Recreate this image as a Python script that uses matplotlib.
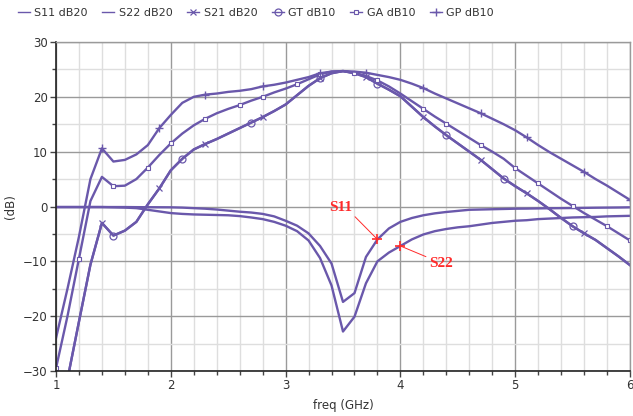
import matplotlib
matplotlib.use("Agg")
import matplotlib.pyplot as plt
from matplotlib.ticker import MultipleLocator

freq = [1.0, 1.1, 1.2, 1.3, 1.4, 1.5, 1.6, 1.7, 1.8, 1.9,
        2.0, 2.1, 2.2, 2.3, 2.4, 2.5, 2.6, 2.7, 2.8, 2.9,
        3.0, 3.1, 3.2, 3.3, 3.4, 3.5, 3.6, 3.7, 3.8, 3.9,
        4.0, 4.1, 4.2, 4.3, 4.4, 4.5, 4.6, 4.7, 4.8, 4.9,
        5.0, 5.1, 5.2, 5.3, 5.4, 5.5, 5.6, 5.7, 5.8, 5.9, 6.0]

s11_db = [-0.1, -0.1, -0.1, -0.1, -0.1, -0.1, -0.1, -0.12, -0.13, -0.14,
          -0.15, -0.2, -0.3, -0.4, -0.55, -0.75, -0.95, -1.1, -1.35, -1.8,
          -2.6, -3.5, -4.9, -7.2, -10.4, -17.4, -15.8, -9.2, -6.0, -4.0,
          -2.8, -2.1, -1.6, -1.25, -1.0, -0.8, -0.6, -0.55, -0.5, -0.45,
          -0.4, -0.38, -0.35, -0.32, -0.3, -0.28, -0.25, -0.22, -0.2, -0.18, -0.15]

s22_db = [-0.1, -0.1, -0.1, -0.1, -0.1, -0.15, -0.2, -0.3, -0.6, -0.9,
          -1.2, -1.35, -1.45, -1.5, -1.55, -1.6, -1.75, -2.0, -2.3, -2.8,
          -3.5, -4.5, -6.2, -9.4, -14.4, -22.8, -20.1, -14.0, -10.0, -8.4,
          -7.2, -6.0, -5.1, -4.5, -4.1, -3.8, -3.6, -3.3, -3.0, -2.8,
          -2.6, -2.5, -2.3, -2.2, -2.1, -2.0, -1.95, -1.9, -1.8, -1.75, -1.7]

s21_db = [-42.0, -31.5, -21.0, -10.6, -3.0, -5.3, -4.4, -2.8, 0.4, 3.3,
          6.6, 8.7, 10.4, 11.4, 12.3, 13.3, 14.3, 15.3, 16.3, 17.4,
          18.6, 20.3, 22.0, 23.4, 24.3, 24.7, 24.3, 23.6, 22.4, 21.3,
          20.1, 18.2, 16.3, 14.6, 13.0, 11.5, 10.0, 8.5, 6.8, 5.1,
          3.7, 2.4, 1.0, -0.5, -2.1, -3.6, -4.9, -6.1, -7.6, -9.1, -10.7]

gt_db = [-42.0, -31.5, -21.0, -10.6, -3.0, -5.3, -4.4, -2.8, 0.4, 3.3,
         6.6, 8.7, 10.4, 11.4, 12.3, 13.3, 14.3, 15.3, 16.3, 17.4,
         18.6, 20.3, 22.0, 23.4, 24.3, 24.7, 24.3, 23.6, 22.4, 21.3,
         20.1, 18.2, 16.3, 14.6, 13.0, 11.5, 10.0, 8.5, 6.8, 5.1,
         3.7, 2.4, 1.0, -0.5, -2.1, -3.6, -4.9, -6.1, -7.6, -9.1, -10.7]

ga_db = [-29.5, -20.0, -9.5, 1.0, 5.4, 3.7, 3.8, 5.0, 7.1, 9.4,
         11.5, 13.3, 14.8, 16.0, 17.0, 17.8, 18.5, 19.3, 20.0, 20.8,
         21.5, 22.3, 23.2, 24.1, 24.6, 24.7, 24.4, 23.8, 23.0, 21.9,
         20.6, 19.2, 17.8, 16.4, 15.1, 13.8, 12.5, 11.2, 10.0, 8.7,
         7.0, 5.6, 4.2, 2.8, 1.4, 0.1, -1.2, -2.4, -3.6, -4.9, -6.2]

gp_db = [-24.0, -15.0, -5.5, 5.0, 10.6, 8.2, 8.5, 9.5, 11.2, 14.3,
         16.7, 18.9, 20.0, 20.4, 20.6, 20.9, 21.1, 21.4, 21.9, 22.2,
         22.6, 23.1, 23.6, 24.3, 24.6, 24.7, 24.6, 24.4, 24.0, 23.6,
         23.1, 22.4, 21.6, 20.6, 19.7, 18.8, 17.9, 17.0, 16.0, 15.0,
         13.9, 12.6, 11.2, 9.9, 8.7, 7.5, 6.3, 5.0, 3.8, 2.5, 1.2]

s21_marks = [4, 9, 13, 18, 23, 27, 32, 37, 41, 46]
gt_marks = [5, 11, 17, 23, 28, 34, 39, 45]
ga_marks = [0, 2, 5, 8, 10, 13, 16, 18, 21, 23, 26, 28, 32, 34, 37, 40, 42, 45, 48, 50]
gp_marks = [4, 9, 13, 18, 23, 27, 32, 37, 41, 46, 50]

s11_marker_idx = 28  # 3.8 GHz
s22_marker_idx = 30  # 4.0 GHz

plt.rcParams['font.family'] = ['DejaVu Sans']
LC = '#6a58ab'
TXT = '#333333'

fig = plt.figure(figsize=(6.33, 4.16), dpi=100)
ax = fig.add_axes([56/633, 45/416, 574/633, 329/416])

lw = 1.7
ax.plot(freq, s11_db, color=LC, lw=lw, label='S11 dB20')
ax.plot(freq, s22_db, color=LC, lw=lw, label='S22 dB20')
ax.plot(freq, s21_db, color=LC, lw=lw, marker='x', ms=5, mew=0.9,
        markevery=s21_marks, label='S21 dB20')
ax.plot(freq, gt_db, color=LC, lw=lw, marker='o', ms=5, mew=0.9, mfc='none',
        markevery=gt_marks, label='GT dB10')
ax.plot(freq, ga_db, color=LC, lw=lw, marker='s', ms=2.6, mew=0.8, mfc='white',
        markevery=ga_marks, label='GA dB10')
ax.plot(freq, gp_db, color=LC, lw=lw, marker='+', ms=6, mew=1.0,
        markevery=gp_marks, label='GP dB10')

ax.set_xlim(1, 6)
ax.set_ylim(-30, 30)
ax.xaxis.set_major_locator(MultipleLocator(1))
ax.xaxis.set_minor_locator(MultipleLocator(0.2))
ax.yaxis.set_major_locator(MultipleLocator(10))
ax.yaxis.set_minor_locator(MultipleLocator(5))
ax.grid(which='major', color='#9a9a9a', lw=1.0)
ax.grid(which='minor', color='#dedede', lw=1.0)
ax.set_axisbelow(True)
ax.tick_params(which='major', direction='out', length=4, width=1, color='#444444',
               labelsize=8.5, labelcolor=TXT, pad=2)
ax.tick_params(which='minor', direction='out', length=3, width=1, color='#444444')
for side in ['left', 'bottom']:
    ax.spines[side].set_color('#222222')
    ax.spines[side].set_linewidth(1.2)
for side in ['top', 'right']:
    ax.spines[side].set_color('#9a9a9a')
    ax.spines[side].set_linewidth(1.0)

ax.set_xlabel('freq (GHz)', fontsize=8.5, color=TXT)
ax.set_ylabel('(dB)', fontsize=8.5, color=TXT)
ax.yaxis.set_label_coords(-0.068, 0.5)
ax.xaxis.set_label_coords(0.5, -0.085)

# marker annotations
red = '#ff2a2a'
fx1, fy1 = freq[s11_marker_idx], s11_db[s11_marker_idx]
fx2, fy2 = freq[s22_marker_idx], s22_db[s22_marker_idx]
ax.plot([fx1], [fy1], marker='+', color=red, ms=7, mew=1.2, zorder=5)
ax.plot([fx2], [fy2], marker='+', color=red, ms=7, mew=1.2, zorder=5)
ax.annotate('S11', xy=(fx1, fy1), xytext=(3.48, -0.2), color=red,
            fontsize=11, fontweight='bold', family='Liberation Serif',
            ha='center', va='center',
            arrowprops=dict(arrowstyle='-', color=red, lw=0.7, shrinkA=0, shrinkB=0,
                            relpos=(0.95, 0.1)))
ax.annotate('S22', xy=(fx2, fy2), xytext=(4.35, -10.4), color=red,
            fontsize=11, fontweight='bold', family='Liberation Serif',
            ha='center', va='center',
            arrowprops=dict(arrowstyle='-', color=red, lw=0.7, shrinkA=0, shrinkB=0,
                            relpos=(0.05, 0.9)))

leg = fig.legend(loc='upper left', bbox_to_anchor=(0.012, 1.005), ncol=6,
                 frameon=False, fontsize=8, handlelength=1.1, handletextpad=0.4,
                 columnspacing=1.3, labelcolor=TXT)
for h in leg.legend_handles:
    h.set_linewidth(1.0)

fig.savefig('out.png', dpi=100)
